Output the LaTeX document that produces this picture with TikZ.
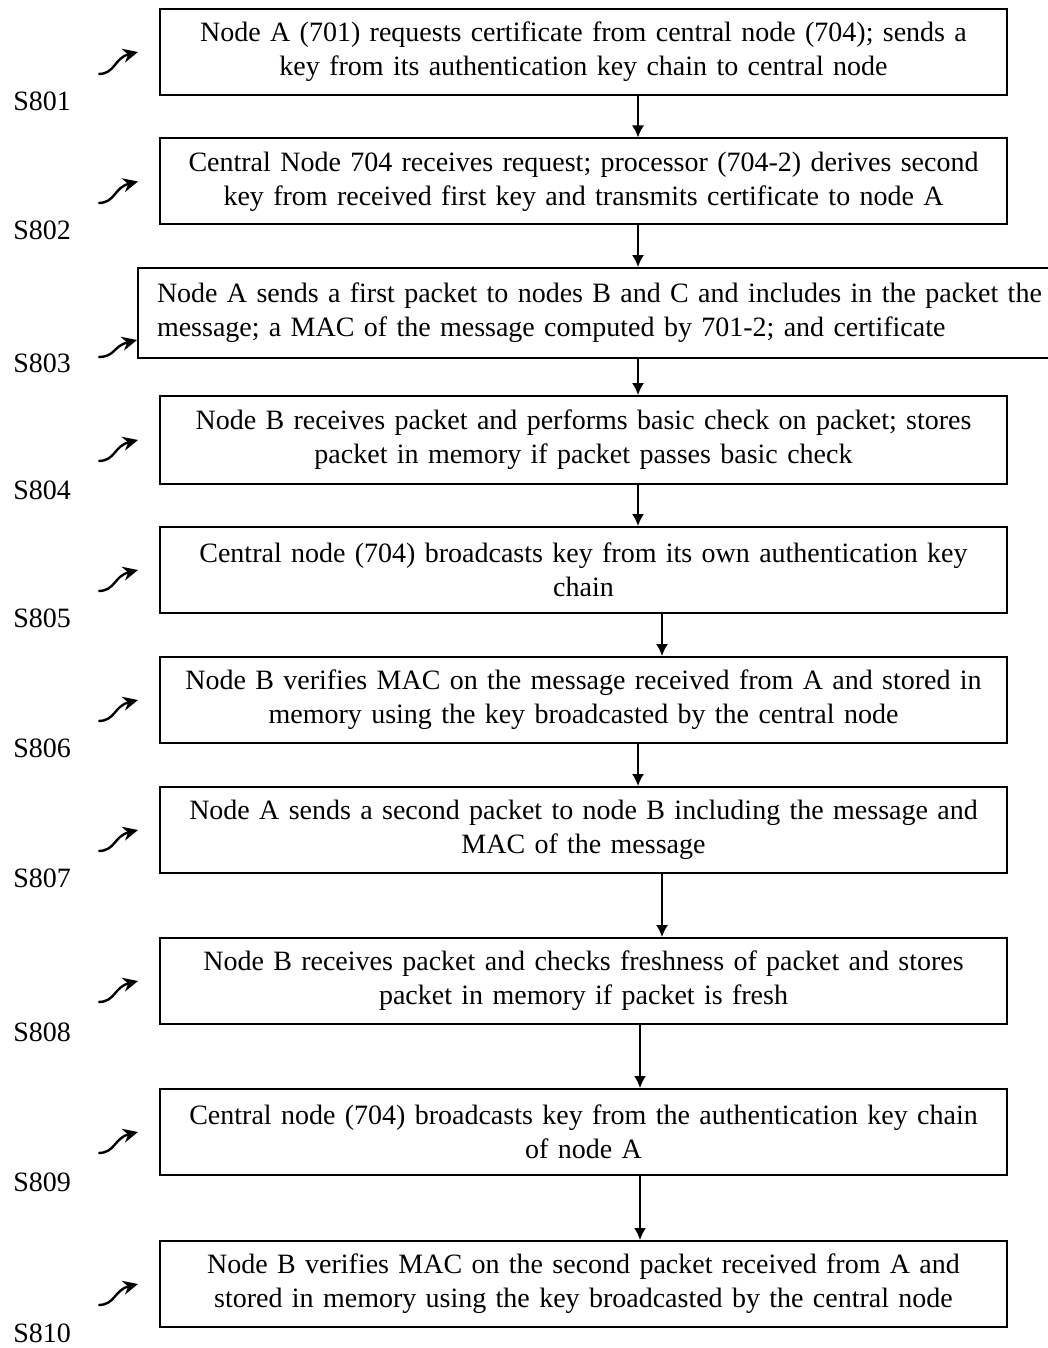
\documentclass[tikz,border=0pt]{standalone}
\usepackage{fontspec}
\setmainfont{Liberation Serif}
\usetikzlibrary{arrows.meta}
\tikzset{
    stepbox/.style={draw, line width=1pt, minimum width=423.5pt, minimum height=43pt,
        text width=415pt, inner sep=0pt, align=center},
    steplabel/.style={anchor=west, inner sep=0pt},
    flow/.style={-{Latex[length=6pt,width=6pt]}, line width=0.8pt},
    curl/.style={-{Stealth[length=7.5pt,width=7pt]}, line width=1.2pt}
}
\begin{document}
\begin{tikzpicture}[x=0.5pt, y=-0.5pt, font=\fontsize{14}{17}\selectfont]
        \clip (0,0) rectangle (1048,1348);
        % boxes
        \node[stepbox] (b1) at (583.5,52) {Node A (701) requests certificate from central node (704); sends a\\key from its authentication key chain to central node};
        \node[stepbox] (b2) at (583.5,181.5) {Central Node 704 receives request; processor (704-2) derives second\\key from received first key and transmits certificate to node A};
        \node[draw, line width=1pt, minimum height=45pt, text width=460pt, inner xsep=9.5pt, inner ysep=0pt, align=left] (b3) at (617,313) {Node A sends a first packet to nodes B and C and includes in the packet the\\message; a MAC of the message computed by 701-2; and certificate};
        \node[stepbox, minimum height=44pt] (b4) at (583.5,440) {Node B receives packet and performs basic check on packet; stores\\packet in memory if packet passes basic check};
        \node[stepbox] (b5) at (583.5,570) {Central node (704) broadcasts key from its own authentication key\\chain};
        \node[stepbox] (b6) at (583.5,700) {Node B verifies MAC on the message received from A and stored in\\memory using the key broadcasted by the central node};
        \node[stepbox] (b7) at (583.5,830) {Node A sends a second packet to node B including the message and\\MAC of the message};
        \node[stepbox] (b8) at (583.5,981) {Node B receives packet and checks freshness of packet and stores\\packet in memory if packet is fresh};
        \node[stepbox] (b9) at (583.5,1132) {Central node (704) broadcasts key from the authentication key chain\\of node A};
        \node[stepbox] (b10) at (583.5,1284) {Node B verifies MAC on the second packet received from A and\\stored in memory using the key broadcasted by the central node};
        % step labels
        \node[steplabel] (s801) at (13,101) {S801};
        \node[steplabel] (s802) at (13,230) {S802};
        \node[steplabel] (s803) at (13,363) {S803};
        \node[steplabel] (s804) at (13,490) {S804};
        \node[steplabel] (s805) at (13,618) {S805};
        \node[steplabel] (s806) at (13,748) {S806};
        \node[steplabel] (s807) at (13,878) {S807};
        \node[steplabel] (s808) at (13,1032) {S808};
        \node[steplabel] (s809) at (13,1182) {S809};
        \node[steplabel] (s810) at (13,1333) {S810};
        % arrow columns
        \coordinate (xl) at (638,0);
        \coordinate (xm) at (640,0);
        \coordinate (xr) at (662,0);
        \coordinate (tx) at (138,0);
        \draw[flow] (b1.south -| xl) -- (b2.north -| xl);
        \draw[flow] (b2.south -| xl) -- (b3.north -| xl);
        \draw[flow] (b3.south -| xl) -- (b4.north -| xl);
        \draw[flow] (b4.south -| xl) -- (b5.north -| xl);
        \draw[flow] (b5.south -| xr) -- (b6.north -| xr);
        \draw[flow] (b6.south -| xl) -- (b7.north -| xl);
        \draw[flow] (b7.south -| xr) -- (b8.north -| xr);
        \draw[flow] (b8.south -| xm) -- (b9.north -| xm);
        \draw[flow] (b9.south -| xm) -- (b10.north -| xm);
        % curly pointers
        \draw[curl] ([shift={(27,-27)}]s801.east) .. controls +(17,0) and +(-24,6) .. (b1.west -| tx);
        \draw[curl] ([shift={(27,-27)}]s802.east) .. controls +(17,0) and +(-24,6) .. (b2.west -| tx);
        \draw[curl] ([shift={(27,-6)}]s803.east) .. controls +(17,0) and +(-24,6) .. ([yshift=-13.5pt]b3.west);
        \draw[curl] ([shift={(27,-29)}]s804.east) .. controls +(17,0) and +(-24,6) .. (b4.west -| tx);
        \draw[curl] ([shift={(27,-27)}]s805.east) .. controls +(17,0) and +(-24,6) .. (b5.west -| tx);
        \draw[curl] ([shift={(27,-27)}]s806.east) .. controls +(17,0) and +(-24,6) .. (b6.west -| tx);
        \draw[curl] ([shift={(27,-27)}]s807.east) .. controls +(17,0) and +(-24,6) .. (b7.west -| tx);
        \draw[curl] ([shift={(27,-30)}]s808.east) .. controls +(17,0) and +(-24,6) .. (b8.west -| tx);
        \draw[curl] ([shift={(27,-29)}]s809.east) .. controls +(17,0) and +(-24,6) .. (b9.west -| tx);
        \draw[curl] ([shift={(27,-28)}]s810.east) .. controls +(17,0) and +(-24,6) .. (b10.west -| tx);
    \end{tikzpicture}
\end{document}
